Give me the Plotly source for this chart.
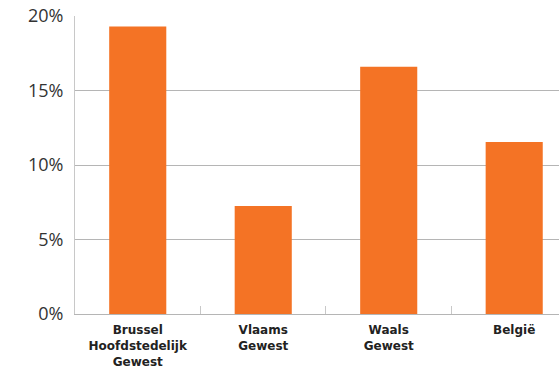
import plotly.graph_objects as go

categories = ["Brussel<br>Hoofdstedelijk<br>Gewest", "Vlaams<br>Gewest", "Waals<br>Gewest", "België"]
values = [0.193, 0.0725, 0.166, 0.1155]
y_ticks = [0, 0.05, 0.10, 0.15, 0.20]
y_labels = ["0%", "5%", "10%", "15%", "20%"]

fig = go.Figure()
fig.add_trace(go.Bar(x=categories, y=values, marker=dict(color="#F47325", line_width=0), width=0.455))

fig.update_layout(
    width=559, height=370,
    margin=dict(l=75, r=0, t=16, b=56),
    plot_bgcolor="white", paper_bgcolor="white",
    showlegend=False,
    font=dict(family="Open Sans", color="#333333"),
    xaxis=dict(
        range=[-0.5, 3.357], automargin=False,
        showline=True, linecolor="#b5b5b5", linewidth=1,
        ticks="inside", tickson="boundaries", ticklen=8, tickcolor="#c8c8c8",
        tickfont=dict(size=12, color="#222222", family="DejaVu Sans", weight="bold"),
        ticklabelstandoff=5, showgrid=False,
    ),
    yaxis=dict(
        range=[0, 0.2], tickvals=y_ticks, ticktext=y_labels, automargin=False,
        showline=True, linecolor="#c8c8c8", linewidth=1,
        gridcolor="#b5b5b5", gridwidth=1,
        tickfont=dict(size=18, color="#333333", family="Open Sans"),
        ticklabelstandoff=7, zeroline=False,
    ),
)

# drop the default body margin so the figure fills the window
fig.write_html("out.html", config={"displayModeBar": False},
               post_script="document.body.style.margin='0';")
